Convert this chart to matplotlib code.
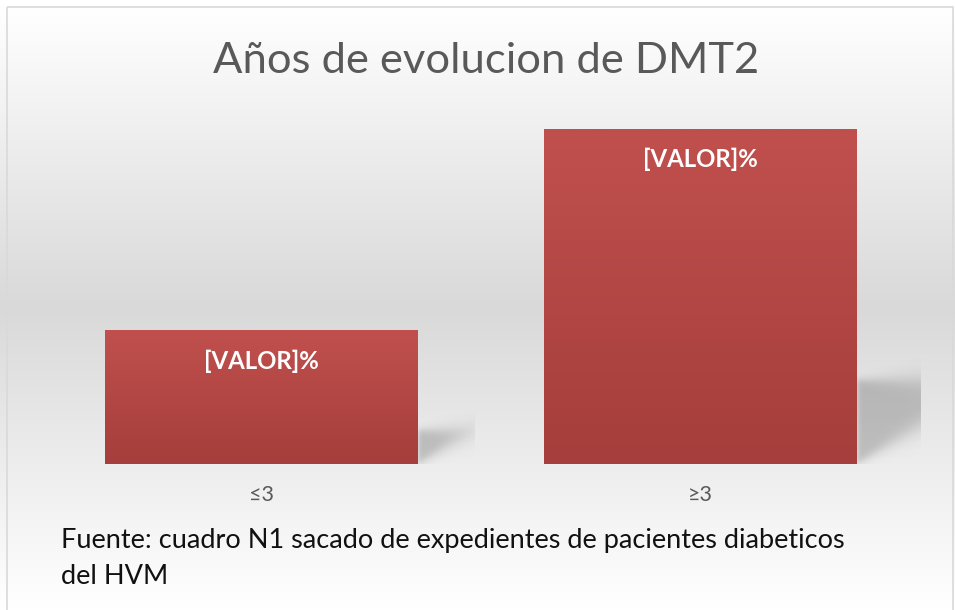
import numpy as np
import matplotlib.pyplot as plt
from matplotlib.patches import Rectangle

plt.rcParams['font.family'] = ['Lato', 'DejaVu Sans']

titulo = 'Años de evolucion de DMT2'
categorias = ['≤3', '≥3']
valores = [28.5, 71.5]
etiquetas = ['[VALOR]%', '[VALOR]%']
fuente = 'Fuente: cuadro N1 sacado de expedientes de pacientes diabeticos\ndel HVM'

W, H = 955, 610
fig = plt.figure(figsize=(W / 100, H / 100), dpi=100)

# fondo con degradado blanco -> gris -> blanco
bg = fig.add_axes([0, 0, 1, 1], zorder=0)
bg.set_xlim(0, W)
bg.set_ylim(H, 0)
bg.axis('off')
yy = np.arange(H) + 0.5
t = np.clip(np.abs(yy - 307) / 300, 0, 1)
gris = 217 + (255 - 217) * t
gris[yy < 7] = 255
img = np.repeat(gris[:, None], 3, axis=1)[:, None, :] / 255
bg.imshow(img, extent=(0, W, H, 0), aspect='auto', interpolation='bilinear')
bg.add_patch(Rectangle((6.5, 6.5), W - 9, H, fill=False, edgecolor='#d9d9d9', lw=1.2))

bg.text(486, 61, titulo, fontsize=31.3, color='#595959', ha='center', va='center')
bg.text(61, 528, fuente, fontsize=19.5, color='#111111', ha='left', va='top', linespacing=1.55)

# area de trazado
top_px, bottom_px, left_px, right_px = 89, 464, 42, 920
ax = fig.add_axes([left_px / W, (H - bottom_px) / H, (right_px - left_px) / W, (bottom_px - top_px) / H], zorder=1)
ax.set_facecolor('none')
for s in ax.spines.values():
    s.set_visible(False)
ymax = 80
x = np.arange(len(categorias))
ancho = 0.711

px_x = (right_px - left_px) / 2.0
px_y = (bottom_px - top_px) / ymax

# sombras en perspectiva
for xi, v in zip(x, valores):
    h = v * px_y
    u = np.linspace(-6, 0.42 * h, 300)
    w = np.linspace(-6, 0.3 * h + 12, 200)
    U, V = np.meshgrid(u, w)
    k = 0.6
    sig = 2.0 + 0.06 * np.clip(U, 0, None)
    top = 0.25 * h
    s1 = 1 / (1 + np.exp(-(top - V) / sig))
    s2 = 1 / (1 + np.exp(-((V - k * U) / np.sqrt(1 + k * k)) / sig))
    s0 = 1 / (1 + np.exp(-U / 1.5))
    alpha = 0.2 * s0 * s1 * s2
    rgba = np.zeros(alpha.shape + (4,))
    rgba[..., 3] = alpha
    x0 = xi + ancho / 2
    ax.imshow(rgba, extent=(x0 + u[0] / px_x, x0 + u[-1] / px_x, w[0] / px_y, w[-1] / px_y),
              origin='lower', aspect='auto', zorder=1, interpolation='bilinear')

barras = ax.bar(x, valores, width=ancho, color='none', edgecolor='none', zorder=2)
arriba = np.array([192, 80, 77]) / 255
abajo = np.array([165, 62, 60]) / 255
grad = np.linspace(0, 1, 100)[:, None, None] * (arriba - abajo) + abajo
for p in barras:
    bx, by = p.get_x(), p.get_y()
    im = ax.imshow(grad, extent=(bx, bx + p.get_width(), by, by + p.get_height()),
                   origin='lower', aspect='auto', zorder=2, interpolation='bilinear')
    im.set_clip_path(p)

for xi, v, lab in zip(x, valores, etiquetas):
    ax.annotate(lab, (xi, v), xytext=(0, -22), textcoords='offset points',
                ha='center', va='center', color='white', fontsize=17.3, fontweight='bold', zorder=3)

ax.set_xlim(-0.5, 1.5)
ax.set_ylim(0, ymax)
ax.set_yticks([])
ax.set_xticks(x)
ax.set_xticklabels(categorias, fontsize=15.5, color='#595959')
ax.tick_params(axis='x', length=0, pad=15)

fig.savefig('out.png', dpi=100)
